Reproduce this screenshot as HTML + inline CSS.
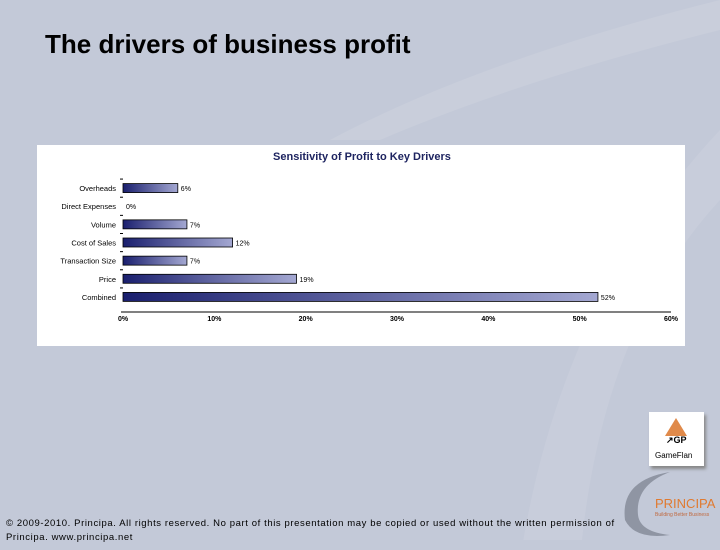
<!DOCTYPE html>
<html><head><meta charset="utf-8"><style>
body{margin:0;width:720px;height:540px;overflow:hidden;background:#c3c9d8;font-family:"Liberation Sans",sans-serif;position:relative}
.t{position:absolute;left:45px;top:29px;font-size:26px;font-weight:bold;color:#000}
.foot{position:absolute;left:6px;top:517px;font-size:9.5px;letter-spacing:0.6px;color:#000;line-height:14px;width:640px}
</style></head><body>
<svg width="720" height="540" style="position:absolute;left:0;top:0">
<path d="M330 140 Q480 60 720 0 L720 30 Q520 80 380 140 Z" fill="#c9cedb"/>
<path d="M520 560 Q560 300 720 130 L720 200 Q600 330 580 560 Z" fill="#c8cddb"/>
</svg>
<div class="t">The drivers of business profit</div>
<svg id="c" width="720" height="540" style="position:absolute;left:0;top:0"></svg>
<div style="position:absolute;left:649px;top:412px;width:55px;height:54px;background:#fff;box-shadow:2px 3px 3px #888">
<svg width="55" height="54"><polygon points="27,6 38,24 16,24" fill="#e08a4a"/><text x="17" y="31" font-size="9" font-weight="bold" font-family="Liberation Sans">↗GP</text><text x="6" y="46" font-size="8" font-family="Liberation Sans">GameFlan</text></svg></div>
<svg width="110" height="90" style="position:absolute;left:610px;top:460px">
<path d="M60 12 Q10 20 15 60 Q25 80 60 75 Q30 72 28 55 Q25 25 60 12Z" fill="#8f95a3"/>
<text x="45" y="48" font-size="13" fill="#e07a30" font-family="Liberation Sans">PRINCIPA</text>
<text x="45" y="56" font-size="5" fill="#c06a40" font-family="Liberation Sans">Building Better Business</text></svg>
<div class="foot">© 2009-2010. Principa. All rights reserved. No part of this presentation may be copied or used without the written permission of Principa. www.principa.net</div>
<script>
const categories=["Overheads","Direct Expenses","Volume","Cost of Sales","Transaction Size","Price","Combined"];
const values=[6,0,7,12,7,19,52];
const labels=["6%","0%","7%","12%","7%","19%","52%"];
const ticks=[0,10,20,30,40,50,60];
const svg=document.getElementById('c');const NS='http://www.w3.org/2000/svg';
function mk(t,a,p){const e=document.createElementNS(NS,t);for(const k in a)e.setAttribute(k,a[k]);(p||svg).appendChild(e);return e;}
const x0=123,x1=671,maxV=60;const xs=v=>x0+(x1-x0)*v/maxV;
const yTop=179,yBot=306,band=(yBot-yTop)/categories.length;const yc=i=>yTop+band*(i+0.5);
const defs=mk('defs',{});const g=mk('linearGradient',{id:'bg',x1:0,x2:1,y1:0,y2:0},defs);
mk('stop',{offset:0,'stop-color':'#1a1f6e'},g);mk('stop',{offset:1,'stop-color':'#a4a8d2'},g);
const box=mk('rect',{x:37,y:145,width:648,height:201,fill:'#fff'});

const tt=mk('text',{x:362,y:160,'text-anchor':'middle','font-size':11,'font-weight':'bold',fill:'#1e2460','font-family':'Liberation Sans'});tt.textContent='Sensitivity of Profit to Key Drivers';

mk('line',{x1:121,x2:x1,y1:312,y2:312,stroke:'#000','stroke-width':1});
ticks.forEach(v=>{const t=mk('text',{x:xs(v),y:321,'text-anchor':'middle','font-size':7,'font-weight':'bold','font-family':'Liberation Sans'});t.textContent=v+'%';
});
categories.forEach((c,i)=>{const y=yc(i);
mk('line',{x1:120,x2:123,y1:y-9,y2:y-9,stroke:'#000','stroke-width':1});
const l=mk('text',{x:116,y:y+3,'text-anchor':'end','font-size':7.5,'font-family':'Liberation Sans'});l.textContent=c;

if(values[i]>0){const b=mk('rect',{x:x0,y:y-4.5,width:xs(values[i])-x0,height:9,fill:'url(#bg)',stroke:'#000','stroke-width':0.8});
}
const v=mk('text',{x:xs(values[i])+3,y:y+3,'font-size':7,'font-family':'Liberation Sans'});v.textContent=labels[i];
});
</script>
</body></html>
